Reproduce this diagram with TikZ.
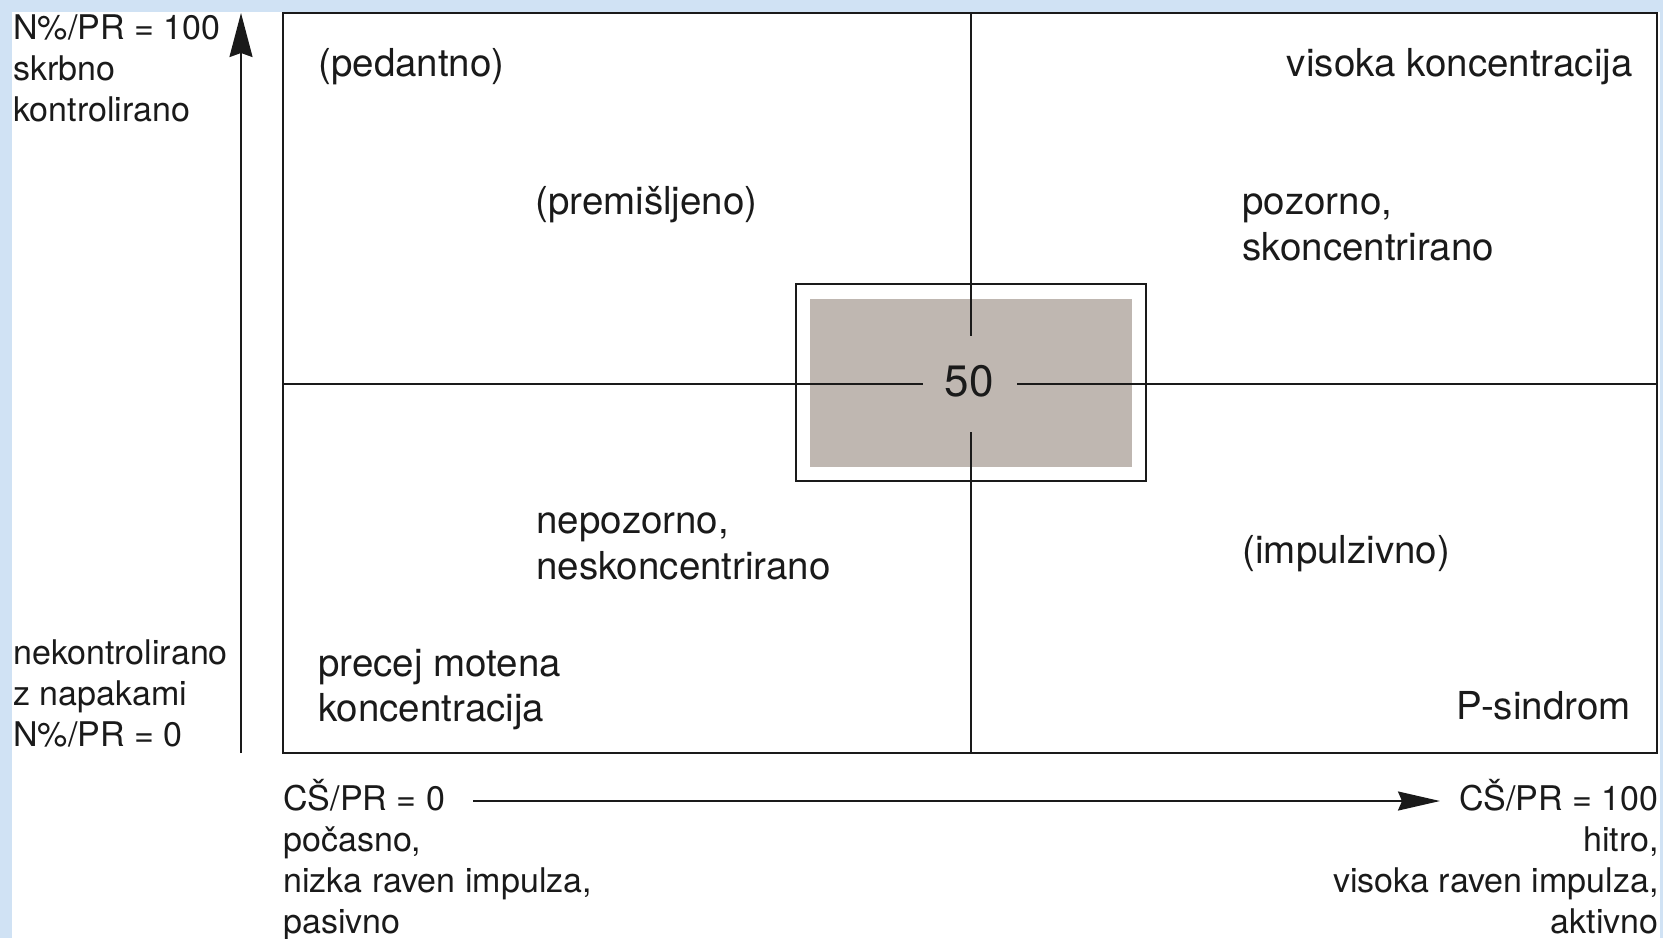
\documentclass[tikz,border=0pt]{standalone}
\usepackage{fontspec}
\setmainfont{TeX Gyre Heros}
\usetikzlibrary{arrows.meta}
\definecolor{bgblue}{RGB}{208,226,244}
\definecolor{boxgray}{RGB}{191,183,177}
\definecolor{ink}{RGB}{26,26,26}
\newcommand\axfont{\fontsize{17}{20}\selectfont}
\newcommand\qfont{\fontsize{19.25}{23}\selectfont}
\newcommand\cfont{\fontsize{22}{26}\selectfont}
\tikzset{
  ax/.style={font=\axfont, inner sep=0pt, text=ink},
  ql/.style={font=\qfont, inner sep=0pt, text=ink},
  frame/.style={draw=ink, line width=1.2pt},
  midline/.style={draw=ink, line width=1pt},
  axisline/.style={draw=ink, line width=1pt},
}
\begin{document}
\begin{tikzpicture}[x=0.5pt, y=-0.5pt]
\useasboundingbox (0,0) rectangle (1663,938);
\fill[bgblue] (0,0) rectangle (1663,938);
\fill[white] (12,12) rectangle (1660,938);

% frame and quadrant lines
\coordinate (ftl) at (283,13);
\coordinate (fbr) at (1657,753);
\draw[frame] (ftl) rectangle (fbr);

% centre box
\fill[boxgray] (810,299) rectangle (1132,467);
\draw[frame] (796,284) rectangle (1146,481);

\coordinate (ft) at (971,13);
\coordinate (fb) at (971,753);
\coordinate (fl) at (283,384);
\coordinate (fr) at (1657,384);
\coordinate (gt) at (971,336);
\coordinate (gb) at (971,432);
\coordinate (gl) at (923,384);
\coordinate (gr) at (1017,384);
\draw[midline] (ft) -- (gt);
\draw[midline] (gb) -- (fb);
\draw[midline] (fl) -- (gl);
\draw[midline] (gr) -- (fr);
\node[font=\cfont, inner sep=0pt, text=ink] (n50) at (969,381) {50};

% axes
\coordinate (yb) at (241,753);
\coordinate (yt) at (241,13);
\draw[axisline, -{Stealth[length=22pt, width=11.5pt, inset=2pt]}] (yb) -- (yt);
\coordinate (xl) at (473,801);
\coordinate (xr) at (1440,801);
\draw[axisline, -{Stealth[length=21pt, width=9.5pt, inset=2pt]}] (xl) -- (xr);

% y-axis labels
\node[ax, anchor=base west] (y1) at (13,39) {N\%/PR = 100};
\node[ax, anchor=base west] (y2) at (13,80) {skrbno};
\node[ax, anchor=base west] (y3) at (13,121) {kontrolirano};
\node[ax, anchor=base west] (y4) at (13,664) {nekontrolirano};
\node[ax, anchor=base west] (y5) at (13,705) {z napakami};
\node[ax, anchor=base west] (y6) at (13,746) {N\%/PR = 0};

% x-axis labels
\node[ax, anchor=base west] (x1) at (283,810) {CŠ/PR = 0};
\node[ax, anchor=base west] (x2) at (283,851) {počasno,};
\node[ax, anchor=base west] (x3) at (283,892) {nizka raven impulza,};
\node[ax, anchor=base west] (x4) at (283,933) {pasivno};
\node[ax, anchor=base east] (x5) at (1659,810) {CŠ/PR = 100};
\node[ax, anchor=base east] (x6) at (1659,851) {hitro,};
\node[ax, anchor=base east] (x7) at (1659,892) {visoka raven impulza,};
\node[ax, anchor=base east] (x8) at (1659,933) {aktivno};

% quadrant labels
\node[ql, anchor=base west] (q1) at (318,76) {(pedantno)};
\node[ql, anchor=base east] (q2) at (1633,76) {visoka koncentracija};
\node[ql, anchor=base west] (q3) at (535,214) {(premišljeno)};
\node[ql, anchor=base west] (q4) at (1242,214) {pozorno,};
\node[ql, anchor=base west] (q5) at (1242,260) {skoncentrirano};
\node[ql, anchor=base west] (q6) at (536,533) {nepozorno,};
\node[ql, anchor=base west] (q7) at (536,579) {neskoncentrirano};
\node[ql, anchor=base west] (q8) at (1242,563) {(impulzivno)};
\node[ql, anchor=base west] (q9) at (318,676) {precej motena};
\node[ql, anchor=base west] (q10) at (318,721) {koncentracija};
\node[ql, anchor=base east] (q11) at (1631,719) {P-sindrom};
\end{tikzpicture}
\end{document}
